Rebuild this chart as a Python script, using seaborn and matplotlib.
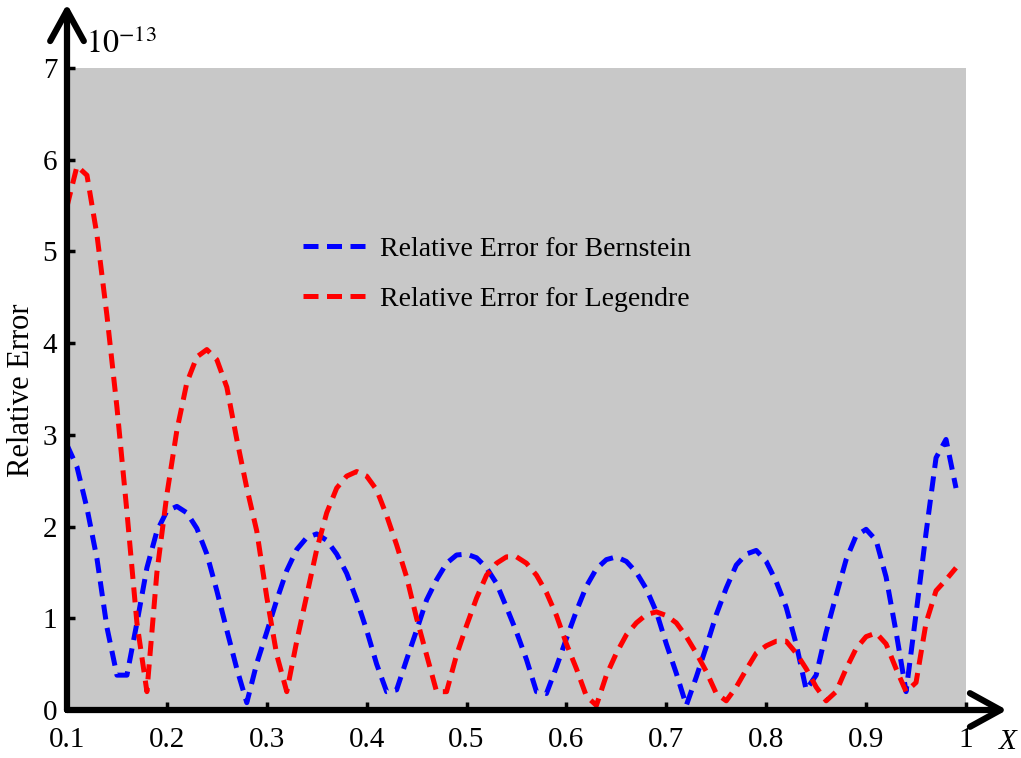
import numpy as np
import pandas as pd
import matplotlib
matplotlib.use("Agg")
import matplotlib.pyplot as plt
import seaborn as sns

# Datos (x de 0.10 a 0.99, paso 0.01), en unidades de 1e-13
x_vals = np.round(np.arange(0.10, 0.995, 0.01), 2)

err_bernstein = [
    2.89, 2.65, 2.20, 1.65, 0.90, 0.38, 0.38, 0.95, 1.55, 1.95,
    2.17, 2.22, 2.15, 1.98, 1.70, 1.30, 0.87, 0.45, 0.08, 0.51,
    0.85, 1.20, 1.52, 1.75, 1.88, 1.92, 1.85, 1.70, 1.49, 1.20,
    0.87, 0.50, 0.20, 0.22, 0.55, 0.87, 1.20, 1.42, 1.60, 1.69,
    1.70, 1.66, 1.55, 1.38, 1.12, 0.85, 0.55, 0.20, 0.18, 0.47,
    0.78, 1.08, 1.35, 1.54, 1.64, 1.67, 1.62, 1.50, 1.32, 1.07,
    0.72, 0.40, 0.05, 0.36, 0.69, 1.04, 1.33, 1.58, 1.70, 1.74,
    1.62, 1.40, 1.12, 0.72, 0.22, 0.38, 0.85, 1.25, 1.64, 1.90,
    1.97, 1.85, 1.45, 0.85, 0.20, 1.05, 1.93, 2.75, 2.95, 2.42,
]

err_legendre = [
    5.49, 5.93, 5.83, 5.18, 4.30, 3.30, 2.16, 0.95, 0.20, 1.50,
    2.35, 3.05, 3.57, 3.85, 3.93, 3.82, 3.52, 2.95, 2.42, 1.95,
    1.23, 0.60, 0.20, 0.75, 1.25, 1.75, 2.15, 2.42, 2.55, 2.60,
    2.55, 2.40, 2.12, 1.80, 1.45, 1.00, 0.60, 0.20, 0.20, 0.60,
    0.92, 1.22, 1.47, 1.60, 1.67, 1.67, 1.60, 1.47, 1.28, 1.03,
    0.72, 0.45, 0.15, 0.05, 0.38, 0.62, 0.82, 0.95, 1.04, 1.07,
    1.03, 0.95, 0.80, 0.62, 0.42, 0.18, 0.10, 0.25, 0.44, 0.62,
    0.70, 0.75, 0.75, 0.62, 0.45, 0.25, 0.10, 0.20, 0.45, 0.67,
    0.80, 0.84, 0.72, 0.45, 0.20, 0.30, 0.95, 1.30, 1.42, 1.55,
]

series_names = ["Relative Error for Bernstein", "Relative Error for Legendre"]
series_colors = ["#0000FF", "#FF0000"]
x_ticks = [0.1, 0.2, 0.3, 0.4, 0.5, 0.6, 0.7, 0.8, 0.9, 1.0]
x_ticklabels = ["0.1", "0.2", "0.3", "0.4", "0.5", "0.6", "0.7", "0.8", "0.9", "1"]
y_ticks = [0, 1, 2, 3, 4, 5, 6, 7]

df = pd.concat([
    pd.DataFrame({"x": x_vals, "err": err_bernstein, "serie": series_names[0]}),
    pd.DataFrame({"x": x_vals, "err": err_legendre, "serie": series_names[1]}),
])

sns.set_style("ticks")
plt.rcParams["font.family"] = ["Liberation Serif", "DejaVu Serif"]
plt.rcParams["mathtext.fontset"] = "stix"
plt.rcParams["text.color"] = "black"
plt.rcParams["xtick.color"] = "black"
plt.rcParams["ytick.color"] = "black"

W, H = 1021, 758
fig = plt.figure(figsize=(W / 100, H / 100), dpi=100)
ax_l, ax_r, ax_t, ax_b = 67, 966, 68, 710
ax = fig.add_axes([ax_l / W, 1 - ax_b / H, (ax_r - ax_l) / W, (ax_b - ax_t) / H])
ax.set_facecolor("#C8C8C8")

sns.lineplot(data=df, x="x", y="err", hue="serie", style="serie",
             palette=series_colors, dashes=[(3, 1.7), (3, 1.7)],
             linewidth=3.6, estimator=None, ax=ax)

ax.set_xlim(0.1, 1.0)
ax.set_ylim(0, 7)
ax.set_xticks(x_ticks)
ax.set_xticklabels(x_ticklabels)
ax.set_yticks(y_ticks)
ax.set_xlabel("")
ax.set_ylabel("")
ax.tick_params(direction="in", length=6, width=2.5, labelsize=21,
               color="black", labelcolor="black")
ax.tick_params(axis="x", pad=12)
ax.tick_params(axis="y", pad=7)
for s in ["top", "right"]:
    ax.spines[s].set_visible(False)
for s in ["left", "bottom"]:
    ax.spines[s].set_linewidth(3.4)
    ax.spines[s].set_color("black")

# leyenda sin marco
leg = ax.legend(loc="upper left", bbox_to_anchor=(0.262, 0.738), frameon=False,
                fontsize=20, handlelength=2.4, handletextpad=0.4,
                labelspacing=0.9, borderpad=0, borderaxespad=0)
for h in leg.get_lines():
    h.set_linewidth(3.6)
for t in leg.get_texts():
    t.set_color("black")

# flechas de los ejes
arr = dict(arrowstyle="->,head_length=1.0,head_width=0.55", lw=4.5, color="black",
           mutation_scale=22, shrinkA=0, shrinkB=0)
ax.annotate("", xy=(ax_l / W, 1 - 4 / H), xytext=(ax_l / W, 1 - ax_b / H),
            xycoords="figure fraction", textcoords="figure fraction",
            arrowprops=arr)
ax.annotate("", xy=(1007 / W, 1 - ax_b / H), xytext=(ax_l / W, 1 - ax_b / H),
            xycoords="figure fraction", textcoords="figure fraction",
            arrowprops=arr)

fig.text(86 / W, 1 - 53 / H, r"$10^{-13}$", fontsize=23, va="baseline", ha="left")
fig.text(1008 / W, 1 - 742 / H, "X", fontsize=21, style="italic", ha="center", va="center")
fig.text(22 / W, 1 - 390 / H, "Relative Error", fontsize=22, rotation=90,
         ha="center", va="center")

fig.savefig("out.png", dpi=100)
